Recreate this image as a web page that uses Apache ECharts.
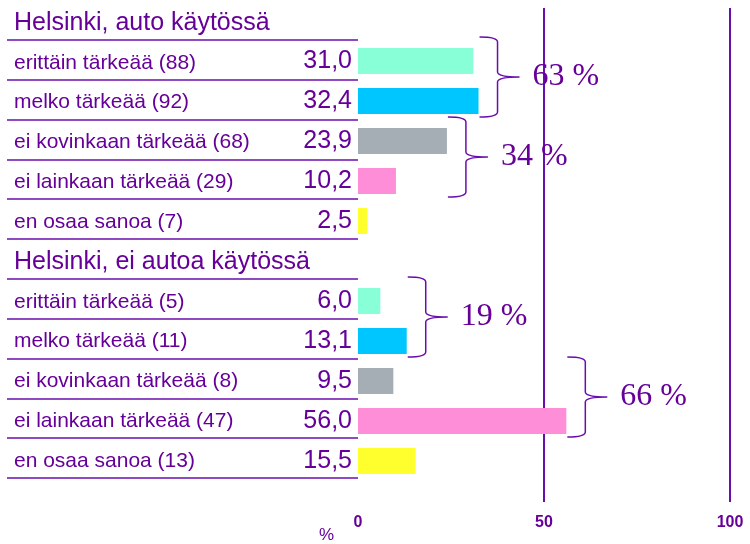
<!DOCTYPE html>
<html lang="fi">
<head>
    <meta charset="UTF-8">
    <title>Helsinki</title>
</head>
<body style="margin:0">
<div id='main' style="height: 544px;width: 750px"></div>
<script src="https://cdn.jsdelivr.net/npm/echarts@6/dist/echarts.min.js"></script>
<script>
    var groups = ['Helsinki, auto käytössä', 'Helsinki, ei autoa käytössä'];
    var answers = ['erittäin tärkeää', 'melko tärkeää', 'ei kovinkaan tärkeää', 'ei lainkaan tärkeää', 'en osaa sanoa'];
    var counts1 = [88, 92, 68, 29, 7];
    var values1 = [31.0, 32.4, 23.9, 10.2, 2.5];
    var counts2 = [5, 11, 8, 47, 13];
    var values2 = [6.0, 13.1, 9.5, 56.0, 15.5];
    var answerColors = ['#88FFD6', '#00C6FF', '#A5AEB4', '#FF8ED8', '#FFFF2E'];
    var xTicks = [0, 50, 100];
    // braces: first and last row (index in rows), label
    var braceFrom = [1, 3, 7, 9];
    var braceTo = [2, 4, 8, 10];
    var braceLabels = ['63 %', '34 %', '19 %', '66 %'];

    var purple = '#6A0DAD';
    var textPurple = '#660099';

    // rows: title, 5 answers, title, 5 answers
    var rows = [], barData = [];
    [[counts1, values1], [counts2, values2]].forEach(function (g, gi) {
        rows.push('{t|' + groups[gi] + '}');
        barData.push('-');
        answers.forEach(function (a, i) {
            rows.push(a + ' (' + g[0][i] + ')');
            barData.push({value: g[1][i], itemStyle: {color: answerColors[i]}});
        });
    });

    var braceData = braceFrom.map(function (f, i) {
        var m = 0;
        for (var k = f; k <= braceTo[i]; k++) m = Math.max(m, barData[k].value);
        return [m, f, braceTo[i], braceLabels[i]];
    });

    var myChart = echarts.init(document.getElementById('main'));
    var option = {
        animation: false,
        grid: [
            {left: 7, width: 351, top: -2, height: 480},
            {left: 358, right: 20, top: 1, height: 480},
            {left: 358, right: 20, top: 8, bottom: 34}
        ],
        xAxis: [
            {gridIndex: 0, type: 'value', show: false},
            {gridIndex: 1, type: 'value', min: 0, max: 100, show: false},
            {
                gridIndex: 2, type: 'value', min: 0, max: 100, interval: 50,
                axisLine: {show: false}, axisTick: {show: false},
                splitLine: {show: true, showMinLine: false, lineStyle: {color: purple, width: 2}},
                axisLabel: {
                    color: textPurple, fontWeight: 'bold', fontSize: 16, margin: 13,
                    fontFamily: 'Liberation Sans',
                    formatter: function (v) { return xTicks.indexOf(v) >= 0 ? String(v) : ''; }
                },
                name: '%', nameLocation: 'start', nameGap: 24,
                nameTextStyle: {color: textPurple, fontSize: 17, fontFamily: 'Liberation Sans',
                    verticalAlign: 'top', padding: [25, 0, 0, 0]}
            }
        ],
        yAxis: [
            {
                gridIndex: 0, type: 'category', inverse: true, data: rows,
                axisLine: {show: false}, axisTick: {show: false},
                splitLine: {show: true, interval: function (i) { return i > 0; },
                    lineStyle: {color: purple, width: 1.5}},
                axisLabel: {
                    inside: true, margin: 7, align: 'left',
                    color: textPurple, fontSize: 21, fontFamily: 'Liberation Sans',
                    padding: [6, 0, 0, 0],
                    rich: {t: {fontSize: 25, color: textPurple, fontFamily: 'Liberation Sans'}}
                }
            },
            {gridIndex: 1, type: 'category', inverse: true, data: rows, show: false},
            {gridIndex: 2, type: 'value', show: false}
        ],
        series: [
            {
                type: 'bar', xAxisIndex: 1, yAxisIndex: 1, data: barData, barWidth: 26,
                label: {
                    show: true, position: 'left', distance: 6,
                    color: textPurple, fontSize: 25, fontFamily: 'Liberation Sans',
                    formatter: function (p) { return p.value.toFixed(1).replace('.', ','); }
                }
            },
            {
                type: 'custom', xAxisIndex: 1, yAxisIndex: 1, data: braceData,
                renderItem: function (params, api) {
                    var band = api.size([0, 1])[1];
                    var p0 = api.coord([api.value(0), api.value(1)]);
                    var p1 = api.coord([api.value(0), api.value(2)]);
                    var x0 = p0[0] + 1, y0 = p0[1] - band / 2 - 4, y1 = p1[1] + band / 2 - 4;
                    var xs = x0 + 18, xp = x0 + 40, ym = (y0 + y1) / 2, r = 5;
                    var path = 'M' + x0 + ',' + y0 +
                        ' Q' + xs + ',' + y0 + ' ' + xs + ',' + (y0 + r) +
                        ' L' + xs + ',' + (ym - r) +
                        ' Q' + xs + ',' + ym + ' ' + xp + ',' + ym +
                        ' Q' + xs + ',' + ym + ' ' + xs + ',' + (ym + r) +
                        ' L' + xs + ',' + (y1 - r) +
                        ' Q' + xs + ',' + y1 + ' ' + x0 + ',' + y1;
                    return {
                        type: 'group',
                        children: [
                            {type: 'path', shape: {pathData: path},
                                style: {fill: null, stroke: purple, lineWidth: 1.5}},
                            {type: 'text', x: xp + 13, y: ym,
                                style: {text: api.value(3), fill: textPurple, fontSize: 32,
                                    fontFamily: 'Liberation Serif', verticalAlign: 'middle'}}
                        ]
                    };
                }
            }
        ]
    };
    myChart.setOption(option);
</script>
</body>
</html>
